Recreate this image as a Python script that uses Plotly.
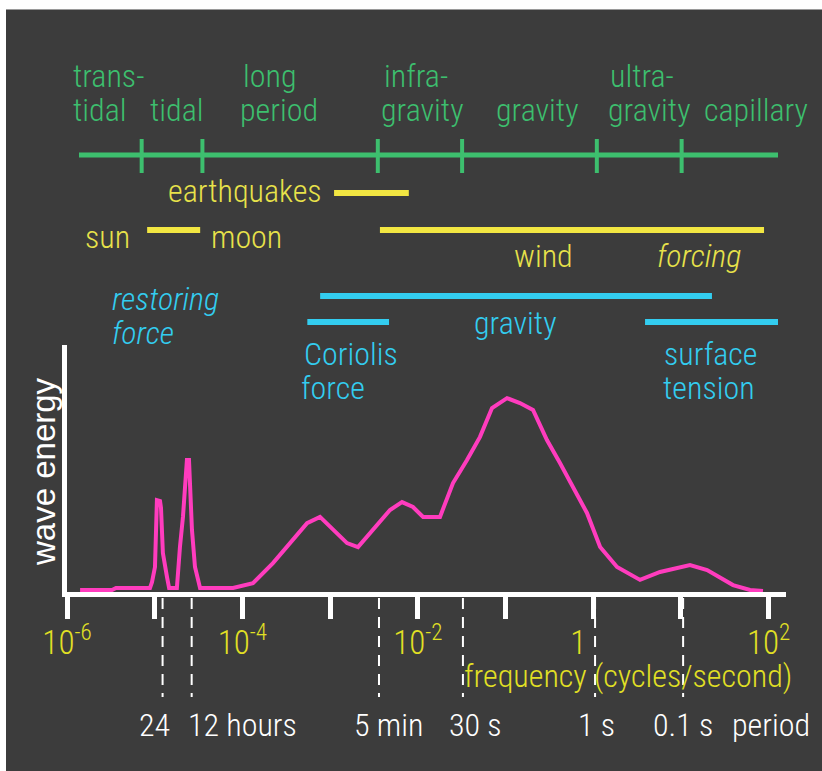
import plotly.graph_objects as go

# ---------------- data ----------------
# wave-energy spectrum (frequency in cycles/second, energy in arbitrary units)
freq = [1.41e-6, 3.26e-6, 3.62e-6, 8.83e-6, 9.31e-6, 1.007e-5, 1.06e-5, 1.15e-5, 1.18e-5,
        1.21e-5, 1.24e-5, 1.38e-5, 1.46e-5, 1.79e-5, 1.85e-5, 1.94e-5, 2.10e-5, 2.21e-5,
        2.33e-5, 2.46e-5, 2.53e-5, 2.66e-5, 2.88e-5, 3.29e-5, 7.82e-5, 1.32e-4, 2.23e-4,
        3.49e-4, 5.46e-4, 7.67e-4, 1.20e-3, 1.56e-3, 2.08e-3, 3.08e-3, 4.82e-3, 6.61e-3,
        8.81e-3, 1.15e-2, 1.79e-2, 2.52e-2, 3.64e-2, 5.12e-2, 7.02e-2, 0.104, 0.146, 0.206,
        0.297, 0.418, 0.589, 0.849, 1.20, 1.87, 3.42, 5.78, 12.7, 19.9, 39.3, 61.4, 86.3]
energy = [0.8, 0.8, 1.6, 1.6, 4.0, 10.1, 37.2, 36.8, 34.0,
          25.1, 15.8, 6.1, 1.6, 1.6, 10.1, 18.2, 30.4, 45.3,
          53.4, 53.4, 44.1, 25.1, 10.1, 1.6, 1.6, 3.6, 11.7,
          19.8, 27.9, 30.4, 23.9, 19.8, 18.2, 25.1, 33.2, 36.4,
          34.4, 30.4, 30.4, 44.1, 53.4, 62.8, 74.5, 78.5, 76.5, 73.7,
          61.5, 52.2, 42.5, 32.0, 18.2, 10.1, 4.9, 8.1, 10.9, 8.9, 2.8, 0.8, 0.4]

# frequency axis ticks
tick_freqs = [1e-6, 1e-5, 1e-4, 1e-3, 1e-2, 1e-1, 1, 1e1, 1e2]
tick_text = ['10<sup>-6</sup>', '', '10<sup>-4</sup>', '', '10<sup>-2</sup>', '',
             '1&nbsp;&nbsp;&nbsp;&nbsp;', '', '10<sup>2</sup>']

# wave-type scale (green): full span and class boundaries
wave_scale_span = [1.37e-6, 128.0]
wave_boundaries = [7.1e-6, 3.5e-5, 3.5e-3, 3.2e-2, 1.1, 10.2]

# forcing ranges (yellow)
earthquake_range = [1.11e-3, 7.9e-3]
sun_moon_range = [8.2e-6, 3.3e-5]
wind_range = [3.7e-3, 88.7]

# restoring-force ranges (cyan)
gravity_range = [7.7e-4, 22.6]
coriolis_range = [5.5e-4, 4.7e-3]
surface_tension_range = [3.9, 128.0]

# reference periods (dashed markers)
period_freqs = [1.23e-5, 2.64e-5, 3.61e-3, 3.27e-2, 1.05, 10.6]

# ---------------- layout helpers ----------------
W, H = 822, 771
DEC = 87.7          # pixels per decade
X0 = 67             # pixel of 10^-6
def px(x): return x / W
def py(y): return 1 - y / H

BG = '#3c3c3c'
GREEN = '#3dbf6e'
YEL = '#e8e24a'
YEL_BAR = '#f2e642'
TICK_YEL = '#e2e024'
CYAN = '#33cdf0'
PINK = '#ff3cbe'
NARROW = 'Roboto Condensed, DejaVu Sans Condensed, sans-serif'
SANS = 'Liberation Sans, Arial, sans-serif'
FS = 32
WT = 300

fig = go.Figure()

# spectrum
fig.add_trace(go.Scatter(x=freq, y=energy, mode='lines', xaxis='x', yaxis='y',
                         line=dict(color=PINK, width=4), hoverinfo='skip'))

def hbar(rng, y, color, width=5):
    fig.add_trace(go.Scatter(x=rng, y=[y, y], mode='lines', xaxis='x2', yaxis='y2',
                             line=dict(color=color, width=width), hoverinfo='skip'))

# green wave-type scale
hbar(wave_scale_span, 155, GREEN, 5)
for f in wave_boundaries:
    fig.add_trace(go.Scatter(x=[f, f], y=[139, 173], mode='lines', xaxis='x2', yaxis='y2',
                             line=dict(color=GREEN, width=4), hoverinfo='skip'))
# yellow forcing
hbar(earthquake_range, 193, YEL_BAR, 6)
hbar(sun_moon_range, 230, YEL_BAR, 6)
hbar(wind_range, 230, YEL_BAR, 6)
# cyan restoring force
hbar(gravity_range, 296, CYAN, 6)
hbar(coriolis_range, 322, CYAN, 6)
hbar(surface_tension_range, 322, CYAN, 6)
# dashed period markers
for f in period_freqs:
    fig.add_trace(go.Scatter(x=[f, f], y=[598, 697], mode='lines', xaxis='x2', yaxis='y2',
                             line=dict(color='white', width=2, dash='11px,8px'), hoverinfo='skip'))

ann = []
def label(text, x, base, color, size=FS, italic=False, family=NARROW):
    ann.append(dict(text=text, x=px(x), y=py(base + 0.22 * size), xref='paper', yref='paper',
                    xanchor='left', yanchor='bottom', showarrow=False,
                    font=dict(color=color, size=size, family=family, weight=WT,
                              style='italic' if italic else 'normal')))

# green labels
for t, x, b in [('trans-', 71, 90), ('tidal', 71, 124), ('tidal', 148, 124),
                ('long', 241, 90), ('period', 238, 124), ('infra-', 382, 90),
                ('gravity', 379, 124), ('gravity', 494, 124), ('ultra-', 608, 90),
                ('gravity', 606, 124), ('capillary', 702, 124)]:
    label(t, x, b, GREEN)
# yellow labels
for t, x, b in [('earthquakes', 166, 205), ('sun', 83, 251), ('moon', 209, 251),
                ('wind', 512, 270)]:
    label(t, x, b, YEL)
label('forcing', 655, 270, YEL, italic=True)
# cyan labels
label('restoring', 110, 313, CYAN, italic=True)
label('force', 110, 347, CYAN, italic=True)
for t, x, b in [('Coriolis', 302, 368), ('force', 299, 402), ('gravity', 472, 337),
                ('surface', 662, 368), ('tension', 661, 402)]:
    label(t, x, b, CYAN)
# axis caption
label('frequency (cycles/second)', 462, 690, TICK_YEL)
# period labels
for t, x in [('24', 137), ('12 hours', 186), ('5 min', 352), ('30 s', 447),
             ('1 s', 576), ('0.1 s', 651), ('period', 730)]:
    label(t, x, 739, 'white')
# y label
ann.append(dict(text='wave energy', x=px(43), y=py(472), xref='paper', yref='paper',
                xanchor='center', yanchor='middle', showarrow=False, textangle=-90,
                font=dict(color='white', size=33, family=SANS)))

L, R, B, T = 67, 786, 592, 345
fig.update_layout(
    width=W, height=H, margin=dict(l=0, r=0, t=0, b=0, autoexpand=False),
    paper_bgcolor=BG, plot_bgcolor='rgba(0,0,0,0)', showlegend=False,
    shapes=[dict(type='rect', xref='paper', yref='paper', x0=0, x1=1, y0=py(9.5), y1=1,
                 fillcolor='white', line=dict(width=0), layer='below'),
            dict(type='rect', xref='paper', yref='paper', x0=0, x1=px(6), y0=0, y1=1,
                 fillcolor='white', line=dict(width=0), layer='below'),
            dict(type='line', xref='paper', yref='paper', x0=px(6), x1=1, y0=py(9.5), y1=py(9.5),
                 line=dict(color='#9a9a9a', width=1), layer='below')],
    xaxis=dict(type='log', domain=[px(L), px(R)], range=[-6, -6 + (R - L) / DEC], anchor='y',
               showline=True, linecolor='white', linewidth=5, showgrid=False, zeroline=False,
               ticks='outside', ticklen=22, tickwidth=5, tickcolor='white',
               tickvals=tick_freqs, ticktext=tick_text,
               tickfont=dict(color=TICK_YEL, size=33, family=NARROW, weight=WT)),
    yaxis=dict(domain=[py(B), py(T)], range=[0, 100], anchor='x', showline=True,
               linecolor='white', linewidth=5, showgrid=False, zeroline=False,
               ticks='', showticklabels=False),
    xaxis2=dict(type='log', domain=[0, 1], range=[-6 - X0 / DEC, -6 + (W - X0) / DEC],
                anchor='y2', visible=False),
    yaxis2=dict(domain=[0, 1], range=[H, 0], anchor='x2', visible=False),
    annotations=ann,
)
try:
    fig.update_xaxes(ticklabelstandoff=-5, selector=dict(anchor='y'))
except Exception:
    pass
fig.write_html('out.html', config={'displayModeBar': False},
               post_script="document.body.style.margin='0px';document.body.style.overflow='hidden';")
